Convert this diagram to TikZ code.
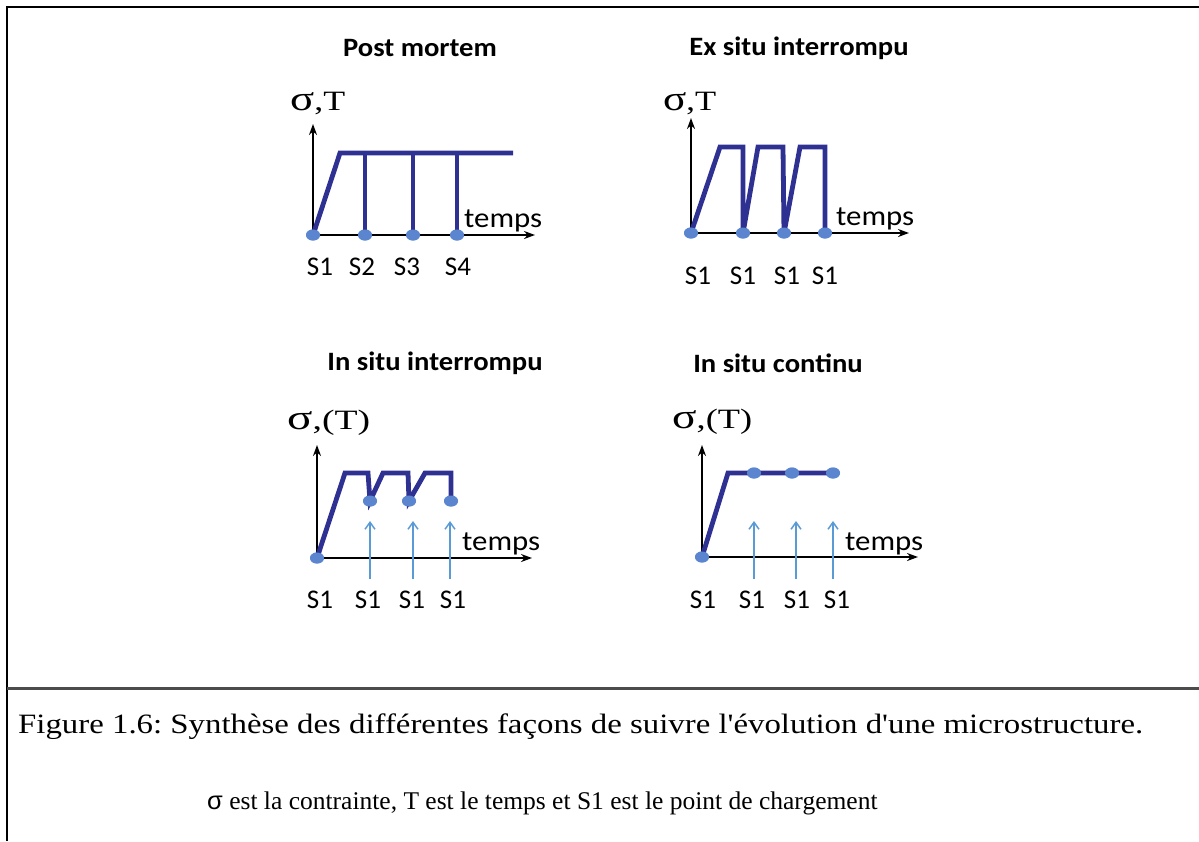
\documentclass[tikz,border=0pt]{standalone}
\usepackage{fontspec}
\setmainfont{Liberation Serif}
\newfontfamily\calfont{Carlito}
\newfontfamily\arialfont{Liberation Sans}
\usetikzlibrary{arrows.meta,shapes.geometric}
\definecolor{curvecol}{HTML}{2E3192}
\definecolor{dotcol}{HTML}{5B86CF}
\definecolor{arrcol}{HTML}{5B9BD5}
\tikzset{
  curve/.style={draw=curvecol, line width=4.8pt, line join=miter},
  axis/.style={draw=black, line width=1.8pt, -{Stealth[length=11pt,width=8pt]}},
  dot/.style={ellipse, fill=dotcol, minimum width=14pt, minimum height=11pt, inner sep=0pt},
  marker/.style={draw=arrcol, line width=1.5pt, -{Straight Barb[length=7pt,width=10pt]}},
  ttl/.style={font=\calfont\bfseries\fontsize{26.5}{30}\selectfont, inner sep=0pt},
  lbl/.style={font=\calfont\fontsize{27}{30}\selectfont, inner sep=0pt},
  tmp/.style={font=\calfont\fontsize{28}{30}\selectfont, inner sep=0pt},
  ylab/.style={inner sep=0pt, anchor=base west},
  frame/.style={draw=black, line width=2pt},
  divider/.style={draw=black!70, line width=3pt},
  captext/.style={font=\fontsize{28}{32}\selectfont, inner sep=0pt},
  captextb/.style={font=\fontsize{25.5}{30}\selectfont, inner sep=0pt},
}
\newcommand{\sig}{{\fontsize{35}{36}\selectfont σ}}
\newcommand{\axlab}[2]{\resizebox{#1}{\height}{\fontsize{28}{30}\selectfont #2}}
\newcommand{\ttlbox}[1]{\scalebox{1.08}[1]{#1}}
\newcommand{\tmpbox}{\scalebox{1.1}[1]{temps}}
\frenchspacing
\begin{document}
\begin{tikzpicture}[x=1pt,y=-1pt]
\useasboundingbox (0,0) rectangle (1199,841);
% frame
\draw[frame] (7,841) -- (7,7) -- (1199,7);
\draw[divider] (7,688) -- (1199,688);

% ===== Chart 1: Post mortem =====
\node[ttl] (t1) at (420,48) {\ttlbox{Post mortem}};
\node[ylab] (y1) at (290,110) {\axlab{55pt}{\sig,T}};
\coordinate (o1) at (313,235);
\coordinate (ytop1) at (313,124);
\coordinate (xend1) at (535,235);
\draw[axis] (o1) -- (ytop1);
\draw[axis] (o1) -- (xend1);
\coordinate (a1) at (340,153);
\coordinate (b1) at (513,153);
\coordinate (p12) at (365,153);
\coordinate (p13) at (413,153);
\coordinate (p14) at (457,153);
\node[dot] (d11) at (313,235) {};
\node[dot] (d12) at (365,235) {};
\node[dot] (d13) at (413,235) {};
\node[dot] (d14) at (457,235) {};
\draw[curve] (o1) -- (a1) -- (b1);
\draw[curve] (p12) -- (d12.center);
\draw[curve] (p13) -- (d13.center);
\draw[curve] (p14) -- (d14.center);
\node[dot] at (d11) {};
\node[dot] at (d12) {};
\node[dot] at (d13) {};
\node[dot] at (d14) {};
\node[tmp, anchor=west] (tm1) at (464,221) {\tmpbox};
\node[lbl] (s11) at (320,267) {S1};
\node[lbl] (s12) at (362,267) {S2};
\node[lbl] (s13) at (407,267) {S3};
\node[lbl] (s14) at (458,267) {S4};

% ===== Chart 2: Ex situ interrompu =====
\node[ttl] (t2) at (799,48) {\ttlbox{Ex situ interrompu}};
\node[ylab] (y2) at (663,110) {\axlab{53pt}{\sig,T}};
\coordinate (o2) at (691,233);
\coordinate (ytop2) at (691,118);
\coordinate (xend2) at (909,233);
\draw[axis] (o2) -- (ytop2);
\draw[axis] (o2) -- (xend2);
\node[dot] (d21) at (691,233) {};
\node[dot] (d22) at (743,233) {};
\node[dot] (d23) at (784,233) {};
\node[dot] (d24) at (825,233) {};
\draw[curve] (o2) -- (720,147) -- (743,147) -- (d22.center) -- (758,147) -- (783,147) -- (d23.center) -- (800,147) -- (825,147) -- (d24.center);
\node[dot] at (d21) {};
\node[dot] at (d22) {};
\node[dot] at (d23) {};
\node[dot] at (d24) {};
\node[tmp, anchor=west] (tm2) at (836,219) {\tmpbox};
\node[lbl] (s21) at (698,276) {S1};
\node[lbl] (s22) at (743,276) {S1};
\node[lbl] (s23) at (787,276) {S1};
\node[lbl] (s24) at (825,276) {S1};

% ===== Chart 3: In situ interrompu =====
\node[ttl] (t3) at (435,363) {\ttlbox{In situ interrompu}};
\node[ylab] (y3) at (287,429) {\axlab{83pt}{\sig,(T)}};
\coordinate (o3) at (317,558);
\coordinate (ytop3) at (317,445);
\coordinate (xend3) at (532,558);
\draw[axis] (o3) -- (ytop3);
\draw[axis] (o3) -- (xend3);
\node[dot] (d31) at (317,558) {};
\node[dot] (d32) at (370,501) {};
\node[dot] (d33) at (409,501) {};
\node[dot] (d34) at (451,501) {};
\draw[curve] (o3) -- (345,473) -- (368,473) -- (d32.center) -- (383,473) -- (408,473) -- (d33.center) -- (425,473) -- (451,473) -- (d34.center);
\node[dot] at (d31) {};
\node[dot] at (d32) {};
\node[dot] at (d33) {};
\node[dot] at (d34) {};
\coordinate (m32) at (370,579);
\coordinate (m33) at (413,579);
\coordinate (m34) at (450,579);
\draw[marker] (m32) -- (370,521);
\draw[marker] (m33) -- (413,521);
\draw[marker] (m34) -- (450,521);
\node[tmp, anchor=west] (tm3) at (462,544) {\tmpbox};
\node[lbl] (s31) at (320,600) {S1};
\node[lbl] (s32) at (368,600) {S1};
\node[lbl] (s33) at (412,600) {S1};
\node[lbl] (s34) at (453,600) {S1};

% ===== Chart 4: In situ continu =====
\node[ttl] (t4) at (778,363) {\ttlbox{In situ continu}};
\node[ylab] (y4) at (672,428) {\axlab{80pt}{\sig,(T)}};
\coordinate (o4) at (702,557);
\coordinate (ytop4) at (702,445);
\coordinate (xend4) at (918,557);
\draw[axis] (o4) -- (ytop4);
\draw[axis] (o4) -- (xend4);
\node[dot] (d41) at (702,557) {};
\node[dot] (d42) at (754,473) {};
\node[dot] (d43) at (792,473) {};
\node[dot] (d44) at (833,473) {};
\draw[curve] (o4) -- (728,473) -- (d44.center);
\node[dot] at (d41) {};
\node[dot] at (d42) {};
\node[dot] at (d43) {};
\node[dot] at (d44) {};
\coordinate (m42) at (754,579);
\coordinate (m43) at (796,579);
\coordinate (m44) at (833,579);
\draw[marker] (m42) -- (754,521);
\draw[marker] (m43) -- (796,521);
\draw[marker] (m44) -- (833,521);
\node[tmp, anchor=west] (tm4) at (845,544) {\tmpbox};
\node[lbl] (s41) at (703,600) {S1};
\node[lbl] (s42) at (752,600) {S1};
\node[lbl] (s43) at (797,600) {S1};
\node[lbl] (s44) at (837,600) {S1};

% ===== Caption =====
\node[captext, anchor=west] (c1) at (18,727) {\resizebox{1125pt}{\height}{Figure 1.6: Synthèse des différentes façons de suivre l\textquotesingle évolution d\textquotesingle une microstructure.}};
\node[captextb, anchor=west] (c2) at (207,803) {{\arialfont σ} est la contrainte, T est le temps et S1 est le point de chargement};
\end{tikzpicture}
\end{document}
